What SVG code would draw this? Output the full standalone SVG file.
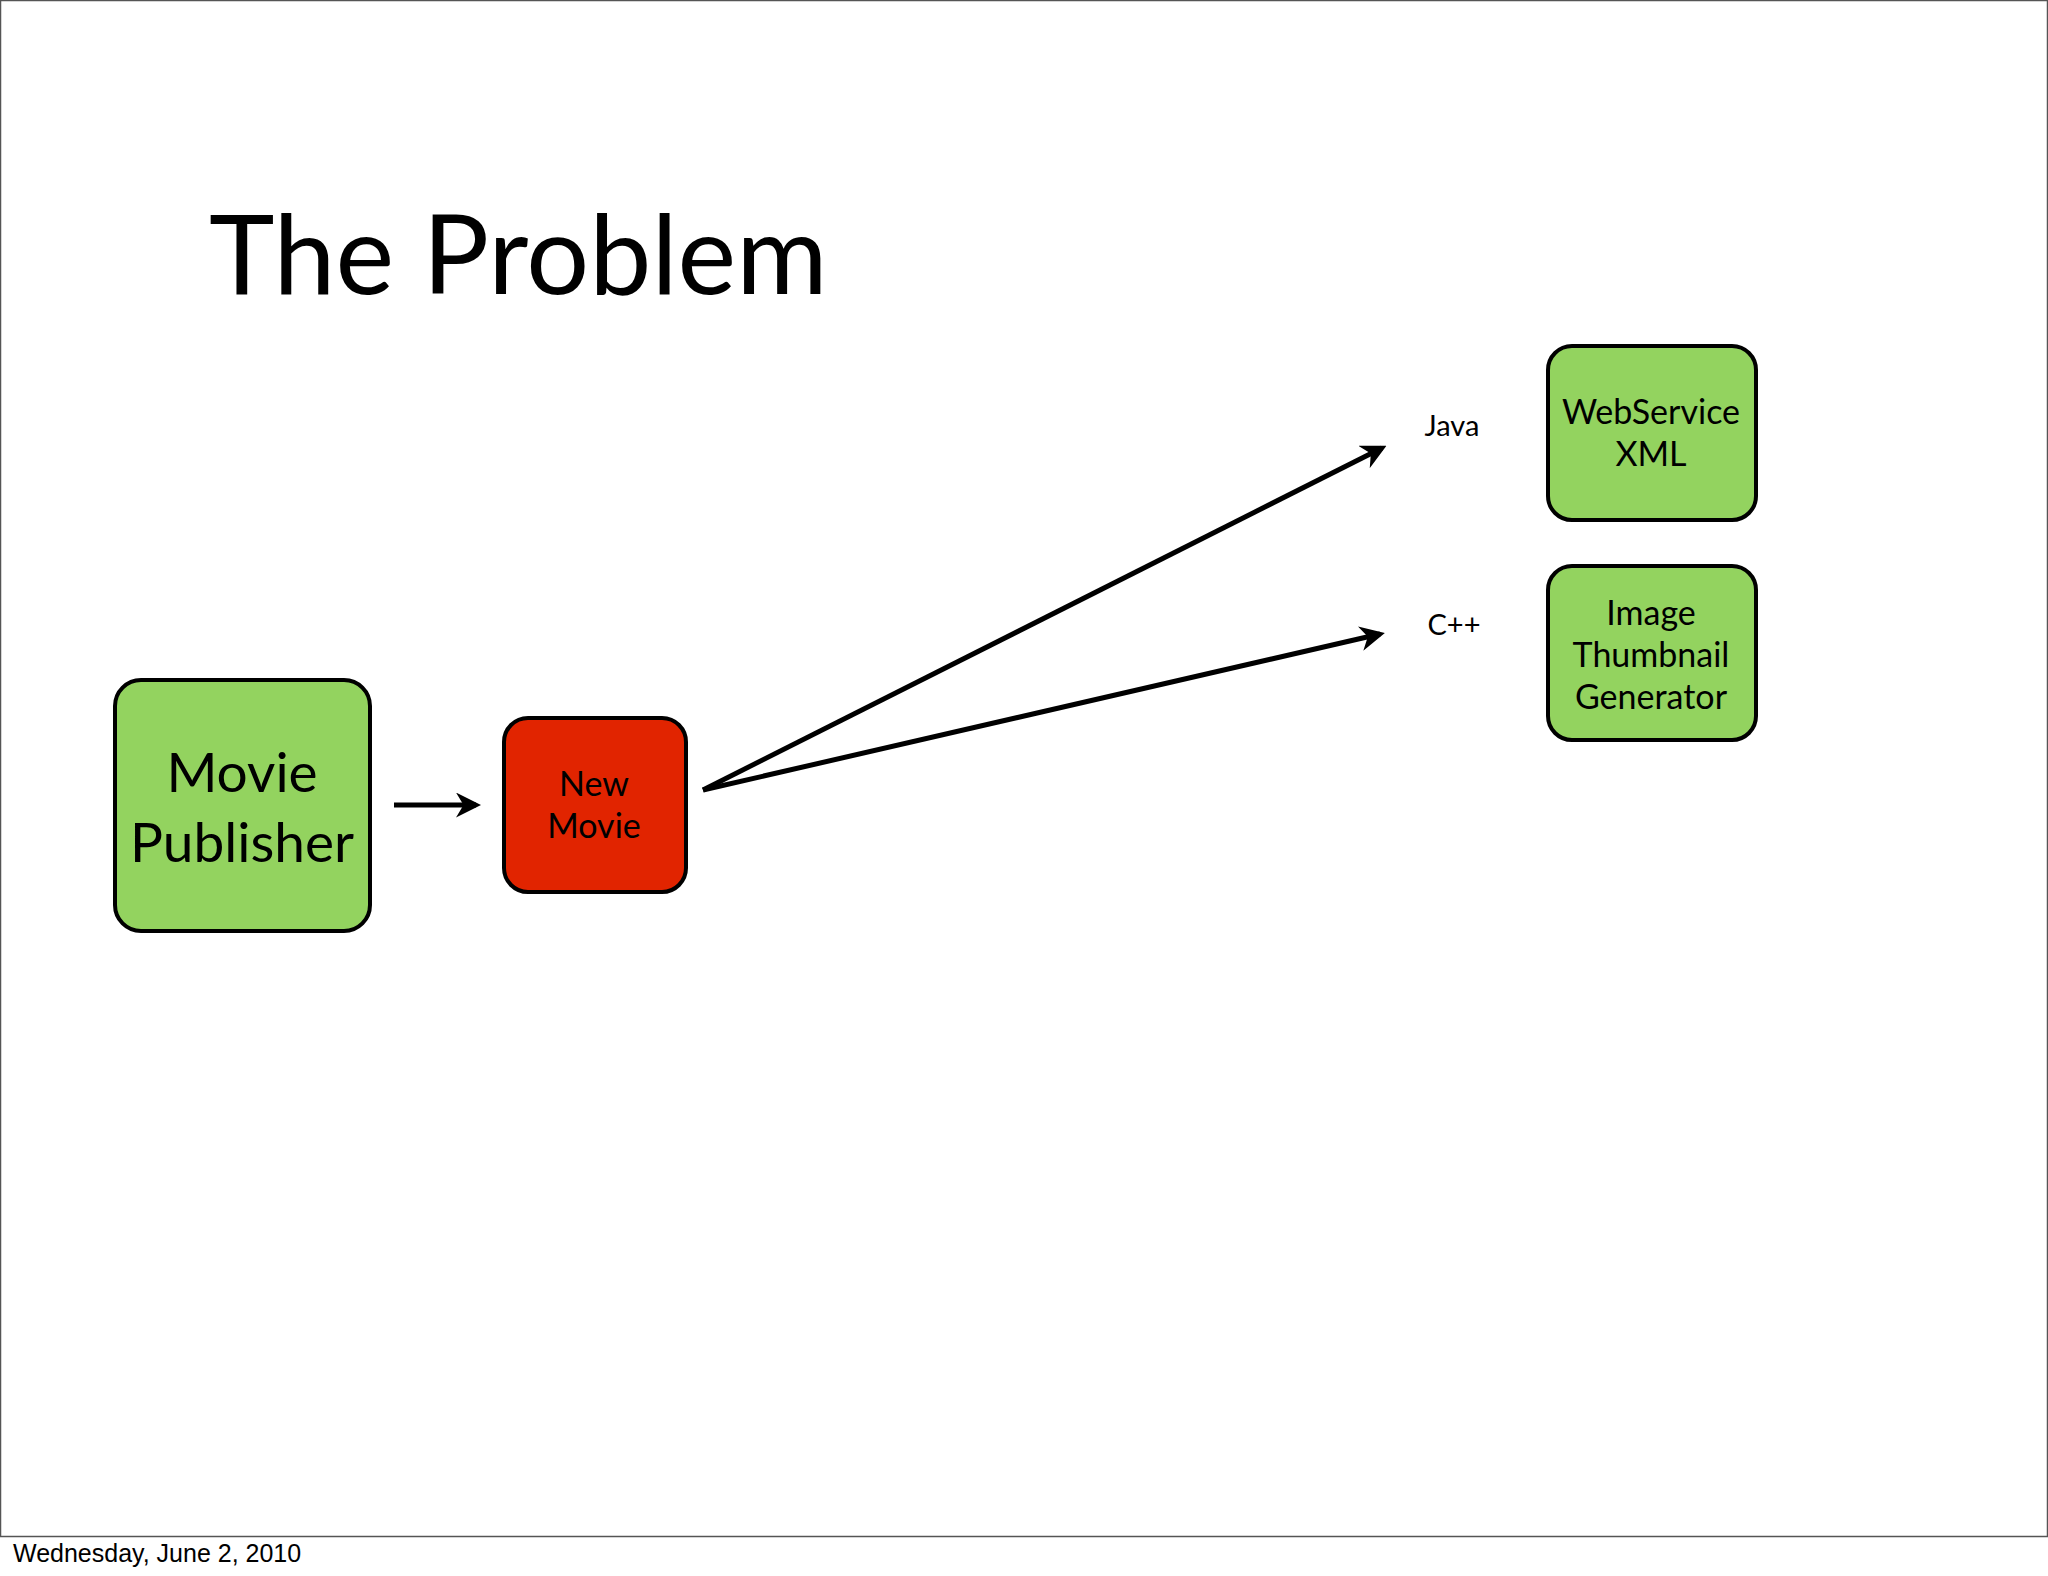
<svg xmlns="http://www.w3.org/2000/svg" width="2048" height="1576" viewBox="0 0 2048 1576">
<style>
.g{fill:#93d35f;stroke:#000;stroke-width:4}
.r{fill:#e12400;stroke:#000;stroke-width:4}
text{font-family:Lato,"Liberation Sans",sans-serif;text-anchor:middle;fill:#000}
.c{stroke:#000;stroke-width:5;fill:none;marker-end:url(#a)}
</style>
<defs><marker id="a" viewBox="0 0 10 10" refX="8" refY="5" markerWidth="5" markerHeight="5" orient="auto" markerUnits="strokeWidth"><path d="M0,0 L10,5 L0,10 L3,5 Z" fill="#000"/></marker></defs>
<rect x="0" y="0" width="2048" height="1576" fill="#fff"/>
<rect x="0.5" y="0.5" width="2047" height="1536" fill="none" stroke="#555" stroke-width="1.5"/>
<text x="209" y="294" font-size="111" style="text-anchor:start">The Problem</text>
<g id="publisher"><rect class="g" x="115" y="680" width="255" height="251" rx="26"/><text x="242" y="792" font-size="55">Movie</text><text x="242" y="862" font-size="55">Publisher</text></g>
<g id="newmovie"><rect class="r" x="504" y="718" width="182" height="174" rx="24"/><text x="594" y="796" font-size="34">New</text><text x="594" y="838" font-size="34">Movie</text></g>
<g id="webservice"><rect class="g" x="1548" y="346" width="208" height="174" rx="24"/><text x="1651" y="424" font-size="34">WebService</text><text x="1651" y="466" font-size="34">XML</text></g>
<g id="thumb"><rect class="g" x="1548" y="566" width="208" height="174" rx="24"/><text x="1651" y="625" font-size="34">Image</text><text x="1651" y="667" font-size="34">Thumbnail</text><text x="1651" y="709" font-size="34">Generator</text></g>
<g id="connectors">
<line class="c" x1="703" y1="790" x2="1382" y2="448"/>
<line class="c" x1="703" y1="790" x2="1380" y2="634"/>
<line class="c" x1="394" y1="805" x2="476" y2="805"/>
<text x="1452" y="436" font-size="29">Java</text>
<text x="1454" y="635" font-size="29">C++</text>
</g>
<text x="13" y="1562" font-size="25" style="text-anchor:start;font-family:'Liberation Sans',sans-serif">Wednesday, June 2, 2010</text>
</svg>
